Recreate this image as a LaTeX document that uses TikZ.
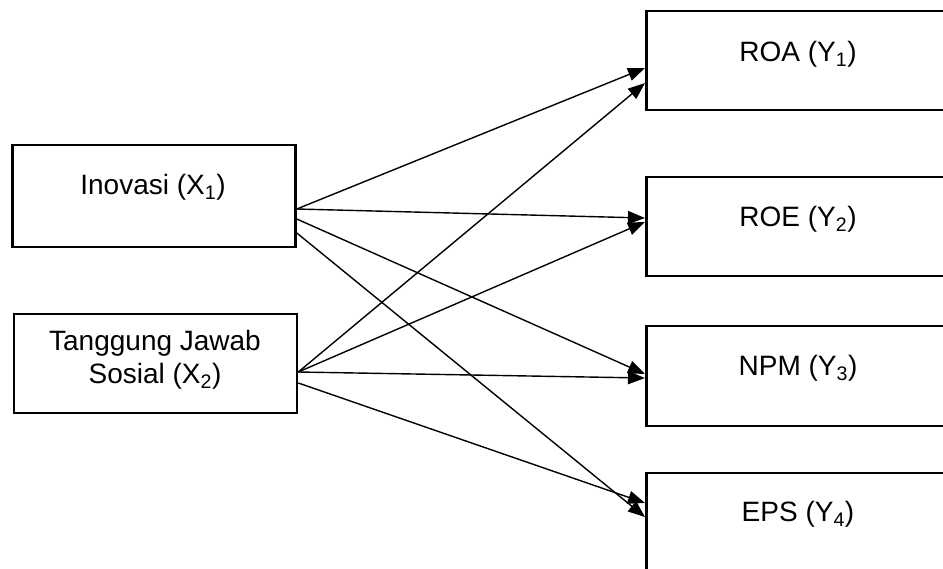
\documentclass[tikz,border=0pt]{standalone}
\usepackage{fontspec}
\setmainfont{Liberation Sans}
\usetikzlibrary{arrows.meta}
\begin{document}
\begin{tikzpicture}[x=1pt,y=-1pt,
  box/.style={draw=black,line width=2.6pt,rectangle,inner sep=0pt},
  lbl/.style={font=\fontsize{28}{33}\selectfont,align=center,inner sep=0pt},
  conn/.style={draw=black,line width=1.4pt,-{Triangle[length=17pt,width=13pt]}}]
\useasboundingbox (0,0) rectangle (943,568);
\clip (0,0) rectangle (943,568);
% left boxes
\node[box,minimum width=283pt,minimum height=102pt] (A) at (154,196) {};
\node[box,minimum width=283pt,minimum height=99pt] (B) at (155.5,363.5) {};
% right boxes
\node[box,minimum width=306pt,minimum height=99pt,anchor=west] (R1) at (645,60.5) {};
\node[box,minimum width=306pt,minimum height=99pt,anchor=west] (R2) at (645,226.5) {};
\node[box,minimum width=306pt,minimum height=100pt,anchor=west] (R3) at (645,376) {};
\node[box,minimum width=306pt,minimum height=99pt,anchor=west] (R4) at (645,522.5) {};
% labels
\node[lbl] (tA) at (153,187) {Inovasi (X\textsubscript{1})};
\node[lbl] (tB) at (155,360) {Tanggung Jawab\\Sosial (X\textsubscript{2})};
\node[lbl] (t1) at (798,54) {ROA (Y\textsubscript{1})};
\node[lbl] (t2) at (798,219) {ROE (Y\textsubscript{2})};
\node[lbl] (t3) at (798,368) {NPM (Y\textsubscript{3})};
\node[lbl] (t4) at (798,514) {EPS (Y\textsubscript{4})};
% connectors from Inovasi
\draw[conn] ([yshift=-13pt]A.east) -- ([yshift=-7.5pt]R1.west);
\draw[conn] ([yshift=-13pt]A.east) -- ([yshift=8.5pt]R2.west);
\draw[conn] ([yshift=-23pt]A.east) -- ([yshift=2pt]R3.west);
\draw[conn] ([yshift=-37pt]A.east) -- ([yshift=5.5pt]R4.west);
% connectors from Tanggung Jawab Sosial
\draw[conn] ([yshift=-8.5pt]B.east) -- ([yshift=-22.5pt]R1.west);
\draw[conn] ([yshift=-8.5pt]B.east) -- ([yshift=4.5pt]R2.west);
\draw[conn] ([yshift=-8.5pt]B.east) -- ([yshift=-2pt]R3.west);
\draw[conn] ([yshift=-19.5pt]B.east) -- ([yshift=19.5pt]R4.west);
\end{tikzpicture}
\end{document}
